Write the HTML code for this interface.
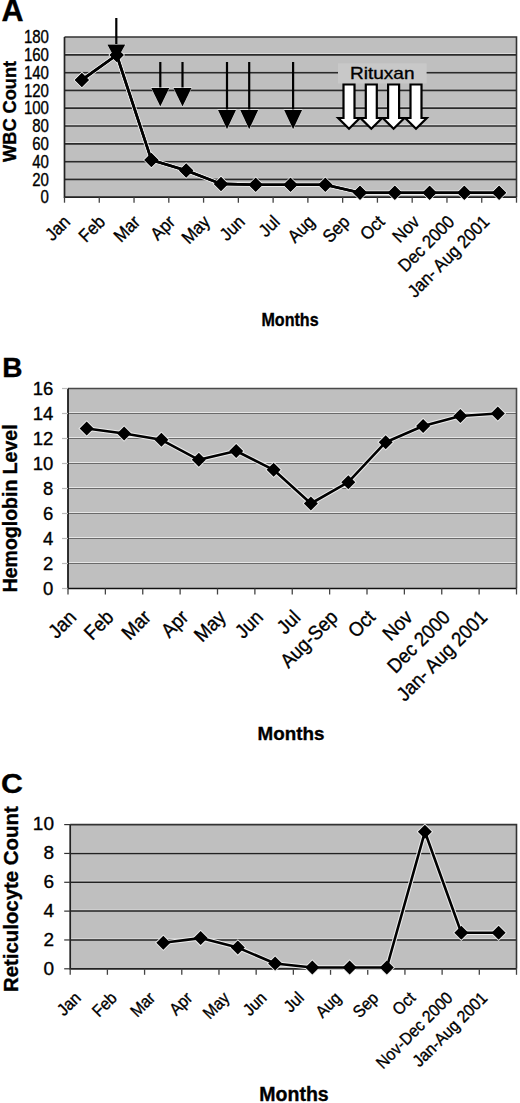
<!DOCTYPE html><html><head><meta charset="utf-8"><style>html,body{margin:0;padding:0;background:#fff;width:520px;height:1103px;overflow:hidden}svg{display:block}text{font-family:"Liberation Sans",sans-serif;fill:#000;stroke:#000;stroke-width:0.35px}</style></head><body>
<svg width="520" height="1103" viewBox="0 0 520 1103">
<text x="1.5" y="21.2" font-size="30.5" font-weight="bold">A</text>
<rect x="64.5" y="37" width="452.0" height="160.2" fill="#bfbfbf"/>
<line x1="64.5" y1="53.80" x2="516.5" y2="53.80" stroke="#e6e6e6" stroke-width="1"/>
<line x1="64.5" y1="54.80" x2="516.5" y2="54.80" stroke="#2a2a2a" stroke-width="1.7"/>
<line x1="64.5" y1="71.60" x2="516.5" y2="71.60" stroke="#e6e6e6" stroke-width="1"/>
<line x1="64.5" y1="72.60" x2="516.5" y2="72.60" stroke="#2a2a2a" stroke-width="1.7"/>
<line x1="64.5" y1="89.40" x2="516.5" y2="89.40" stroke="#e6e6e6" stroke-width="1"/>
<line x1="64.5" y1="90.40" x2="516.5" y2="90.40" stroke="#2a2a2a" stroke-width="1.7"/>
<line x1="64.5" y1="107.20" x2="516.5" y2="107.20" stroke="#e6e6e6" stroke-width="1"/>
<line x1="64.5" y1="108.20" x2="516.5" y2="108.20" stroke="#2a2a2a" stroke-width="1.7"/>
<line x1="64.5" y1="125.00" x2="516.5" y2="125.00" stroke="#e6e6e6" stroke-width="1"/>
<line x1="64.5" y1="126.00" x2="516.5" y2="126.00" stroke="#2a2a2a" stroke-width="1.7"/>
<line x1="64.5" y1="142.80" x2="516.5" y2="142.80" stroke="#e6e6e6" stroke-width="1"/>
<line x1="64.5" y1="143.80" x2="516.5" y2="143.80" stroke="#2a2a2a" stroke-width="1.7"/>
<line x1="64.5" y1="160.60" x2="516.5" y2="160.60" stroke="#e6e6e6" stroke-width="1"/>
<line x1="64.5" y1="161.60" x2="516.5" y2="161.60" stroke="#2a2a2a" stroke-width="1.7"/>
<line x1="64.5" y1="178.40" x2="516.5" y2="178.40" stroke="#e6e6e6" stroke-width="1"/>
<line x1="64.5" y1="179.40" x2="516.5" y2="179.40" stroke="#2a2a2a" stroke-width="1.7"/>
<path d="M64.5 37H516.5V197.2" fill="none" stroke="#333" stroke-width="1.6"/>
<path d="M64.5 37V197.2H516.5" fill="none" stroke="#222" stroke-width="1.7"/>
<line x1="64.50" y1="197.2" x2="64.50" y2="202.7" stroke="#444" stroke-width="1.3"/>
<line x1="99.27" y1="197.2" x2="99.27" y2="202.7" stroke="#444" stroke-width="1.3"/>
<line x1="134.04" y1="197.2" x2="134.04" y2="202.7" stroke="#444" stroke-width="1.3"/>
<line x1="168.81" y1="197.2" x2="168.81" y2="202.7" stroke="#444" stroke-width="1.3"/>
<line x1="203.58" y1="197.2" x2="203.58" y2="202.7" stroke="#444" stroke-width="1.3"/>
<line x1="238.35" y1="197.2" x2="238.35" y2="202.7" stroke="#444" stroke-width="1.3"/>
<line x1="273.12" y1="197.2" x2="273.12" y2="202.7" stroke="#444" stroke-width="1.3"/>
<line x1="307.88" y1="197.2" x2="307.88" y2="202.7" stroke="#444" stroke-width="1.3"/>
<line x1="342.65" y1="197.2" x2="342.65" y2="202.7" stroke="#444" stroke-width="1.3"/>
<line x1="377.42" y1="197.2" x2="377.42" y2="202.7" stroke="#444" stroke-width="1.3"/>
<line x1="412.19" y1="197.2" x2="412.19" y2="202.7" stroke="#444" stroke-width="1.3"/>
<line x1="446.96" y1="197.2" x2="446.96" y2="202.7" stroke="#444" stroke-width="1.3"/>
<line x1="481.73" y1="197.2" x2="481.73" y2="202.7" stroke="#444" stroke-width="1.3"/>
<line x1="516.50" y1="197.2" x2="516.50" y2="202.7" stroke="#444" stroke-width="1.3"/>
<text x="49" y="197.20" dy="0.36em" text-anchor="end" font-size="17.5" transform="translate(49 0) scale(0.86 1) translate(-49 0)">0</text>
<text x="49" y="179.40" dy="0.36em" text-anchor="end" font-size="17.5" transform="translate(49 0) scale(0.86 1) translate(-49 0)">20</text>
<text x="49" y="161.60" dy="0.36em" text-anchor="end" font-size="17.5" transform="translate(49 0) scale(0.86 1) translate(-49 0)">40</text>
<text x="49" y="143.80" dy="0.36em" text-anchor="end" font-size="17.5" transform="translate(49 0) scale(0.86 1) translate(-49 0)">60</text>
<text x="49" y="126.00" dy="0.36em" text-anchor="end" font-size="17.5" transform="translate(49 0) scale(0.86 1) translate(-49 0)">80</text>
<text x="49" y="108.20" dy="0.36em" text-anchor="end" font-size="17.5" transform="translate(49 0) scale(0.86 1) translate(-49 0)">100</text>
<text x="49" y="90.40" dy="0.36em" text-anchor="end" font-size="17.5" transform="translate(49 0) scale(0.86 1) translate(-49 0)">120</text>
<text x="49" y="72.60" dy="0.36em" text-anchor="end" font-size="17.5" transform="translate(49 0) scale(0.86 1) translate(-49 0)">140</text>
<text x="49" y="54.80" dy="0.36em" text-anchor="end" font-size="17.5" transform="translate(49 0) scale(0.86 1) translate(-49 0)">160</text>
<text x="49" y="37.00" dy="0.36em" text-anchor="end" font-size="17.5" transform="translate(49 0) scale(0.86 1) translate(-49 0)">180</text>
<text x="0" y="0" text-anchor="end" font-size="18" transform="translate(71.30 223) rotate(-45) scale(0.92 1)">Jan</text>
<text x="0" y="0" text-anchor="end" font-size="18" transform="translate(106.23 223) rotate(-45) scale(0.92 1)">Feb</text>
<text x="0" y="0" text-anchor="end" font-size="18" transform="translate(141.16 223) rotate(-45) scale(0.92 1)">Mar</text>
<text x="0" y="0" text-anchor="end" font-size="18" transform="translate(176.09 223) rotate(-45) scale(0.92 1)">Apr</text>
<text x="0" y="0" text-anchor="end" font-size="18" transform="translate(211.02 223) rotate(-45) scale(0.92 1)">May</text>
<text x="0" y="0" text-anchor="end" font-size="18" transform="translate(245.95 223) rotate(-45) scale(0.92 1)">Jun</text>
<text x="0" y="0" text-anchor="end" font-size="18" transform="translate(280.88 223) rotate(-45) scale(0.92 1)">Jul</text>
<text x="0" y="0" text-anchor="end" font-size="18" transform="translate(315.81 223) rotate(-45) scale(0.92 1)">Aug</text>
<text x="0" y="0" text-anchor="end" font-size="18" transform="translate(350.74 223) rotate(-45) scale(0.92 1)">Sep</text>
<text x="0" y="0" text-anchor="end" font-size="18" transform="translate(385.67 223) rotate(-45) scale(0.92 1)">Oct</text>
<text x="0" y="0" text-anchor="end" font-size="18" transform="translate(420.60 223) rotate(-45) scale(0.92 1)">Nov</text>
<text x="0" y="0" text-anchor="end" font-size="18" transform="translate(455.53 223) rotate(-45) scale(0.92 1)">Dec 2000</text>
<text x="0" y="0" text-anchor="end" font-size="18" transform="translate(490.46 223) rotate(-45) scale(0.92 1)">Jan- Aug 2001</text>
<path d="M81.9 79.9 L116.7 55.0 L151.4 159.9 L186.2 170.5 L221.0 183.9 L255.7 184.8 L290.5 184.8 L325.3 184.8 L360.0 192.8 L394.8 192.8 L429.6 192.8 L464.3 192.8 L499.1 192.8" fill="none" stroke="#ececec" stroke-width="4.6" stroke-linejoin="round"/>
<path d="M81.9 71.6L90.2 79.9L81.9 88.2L73.6 79.9Z" fill="#ececec"/>
<path d="M116.7 46.7L125.0 55.0L116.7 63.3L108.4 55.0Z" fill="#ececec"/>
<path d="M151.4 151.6L159.7 159.9L151.4 168.2L143.1 159.9Z" fill="#ececec"/>
<path d="M186.2 162.2L194.5 170.5L186.2 178.8L177.9 170.5Z" fill="#ececec"/>
<path d="M221.0 175.6L229.3 183.9L221.0 192.2L212.7 183.9Z" fill="#ececec"/>
<path d="M255.7 176.5L264.0 184.8L255.7 193.1L247.4 184.8Z" fill="#ececec"/>
<path d="M290.5 176.5L298.8 184.8L290.5 193.1L282.2 184.8Z" fill="#ececec"/>
<path d="M325.3 176.5L333.6 184.8L325.3 193.1L317.0 184.8Z" fill="#ececec"/>
<path d="M360.0 184.5L368.3 192.8L360.0 201.1L351.7 192.8Z" fill="#ececec"/>
<path d="M394.8 184.5L403.1 192.8L394.8 201.1L386.5 192.8Z" fill="#ececec"/>
<path d="M429.6 184.5L437.9 192.8L429.6 201.1L421.3 192.8Z" fill="#ececec"/>
<path d="M464.3 184.5L472.6 192.8L464.3 201.1L456.0 192.8Z" fill="#ececec"/>
<path d="M499.1 184.5L507.4 192.8L499.1 201.1L490.8 192.8Z" fill="#ececec"/>
<path d="M81.9 79.9 L116.7 55.0 L151.4 159.9 L186.2 170.5 L221.0 183.9 L255.7 184.8 L290.5 184.8 L325.3 184.8 L360.0 192.8 L394.8 192.8 L429.6 192.8 L464.3 192.8 L499.1 192.8" fill="none" stroke="#000" stroke-width="2.6" stroke-linejoin="round"/>
<path d="M81.9 72.9L88.9 79.9L81.9 86.9L74.9 79.9Z" fill="#000"/>
<path d="M116.7 48.0L123.7 55.0L116.7 62.0L109.7 55.0Z" fill="#000"/>
<path d="M151.4 152.9L158.4 159.9L151.4 166.9L144.4 159.9Z" fill="#000"/>
<path d="M186.2 163.5L193.2 170.5L186.2 177.5L179.2 170.5Z" fill="#000"/>
<path d="M221.0 176.9L228.0 183.9L221.0 190.9L214.0 183.9Z" fill="#000"/>
<path d="M255.7 177.8L262.7 184.8L255.7 191.8L248.7 184.8Z" fill="#000"/>
<path d="M290.5 177.8L297.5 184.8L290.5 191.8L283.5 184.8Z" fill="#000"/>
<path d="M325.3 177.8L332.3 184.8L325.3 191.8L318.3 184.8Z" fill="#000"/>
<path d="M360.0 185.8L367.0 192.8L360.0 199.8L353.0 192.8Z" fill="#000"/>
<path d="M394.8 185.8L401.8 192.8L394.8 199.8L387.8 192.8Z" fill="#000"/>
<path d="M429.6 185.8L436.6 192.8L429.6 199.8L422.6 192.8Z" fill="#000"/>
<path d="M464.3 185.8L471.3 192.8L464.3 199.8L457.3 192.8Z" fill="#000"/>
<path d="M499.1 185.8L506.1 192.8L499.1 199.8L492.1 192.8Z" fill="#000"/>
<line x1="116.3" y1="18" x2="116.3" y2="45.5" stroke="#000" stroke-width="2.2"/>
<path d="M106.8 44.0L125.8 44.0L116.3 61.8Z" fill="#fff"/>
<path d="M107.3 44.5L125.3 44.5L116.3 61Z" fill="#000"/>
<line x1="160.3" y1="62" x2="160.3" y2="89" stroke="#000" stroke-width="2.2"/>
<path d="M150.8 87.5L169.8 87.5L160.3 107.3Z" fill="#fff"/>
<path d="M151.3 88L169.3 88L160.3 106.5Z" fill="#000"/>
<line x1="182.5" y1="62" x2="182.5" y2="89" stroke="#000" stroke-width="2.2"/>
<path d="M173.0 87.5L192.0 87.5L182.5 107.3Z" fill="#fff"/>
<path d="M173.5 88L191.5 88L182.5 106.5Z" fill="#000"/>
<line x1="227" y1="62" x2="227" y2="111" stroke="#000" stroke-width="2.2"/>
<path d="M217.5 109.5L236.5 109.5L227 130.10000000000002Z" fill="#fff"/>
<path d="M218 110L236 110L227 129.3Z" fill="#000"/>
<line x1="249.2" y1="62" x2="249.2" y2="111" stroke="#000" stroke-width="2.2"/>
<path d="M239.7 109.5L258.7 109.5L249.2 130.10000000000002Z" fill="#fff"/>
<path d="M240.2 110L258.2 110L249.2 129.3Z" fill="#000"/>
<line x1="293.1" y1="62" x2="293.1" y2="111" stroke="#000" stroke-width="2.2"/>
<path d="M283.6 109.5L302.6 109.5L293.1 130.10000000000002Z" fill="#fff"/>
<path d="M284.1 110L302.1 110L293.1 129.3Z" fill="#000"/>
<path d="M81.9 79.9 L116.7 55.0 L151.4 159.9 L186.2 170.5 L221.0 183.9 L255.7 184.8 L290.5 184.8 L325.3 184.8 L360.0 192.8 L394.8 192.8 L429.6 192.8 L464.3 192.8 L499.1 192.8" fill="none" stroke="#000" stroke-width="2.6" stroke-linejoin="round"/>
<path d="M81.9 72.9L88.9 79.9L81.9 86.9L74.9 79.9Z" fill="#000"/>
<path d="M116.7 48.0L123.7 55.0L116.7 62.0L109.7 55.0Z" fill="#000"/>
<path d="M151.4 152.9L158.4 159.9L151.4 166.9L144.4 159.9Z" fill="#000"/>
<path d="M186.2 163.5L193.2 170.5L186.2 177.5L179.2 170.5Z" fill="#000"/>
<path d="M221.0 176.9L228.0 183.9L221.0 190.9L214.0 183.9Z" fill="#000"/>
<path d="M255.7 177.8L262.7 184.8L255.7 191.8L248.7 184.8Z" fill="#000"/>
<path d="M290.5 177.8L297.5 184.8L290.5 191.8L283.5 184.8Z" fill="#000"/>
<path d="M325.3 177.8L332.3 184.8L325.3 191.8L318.3 184.8Z" fill="#000"/>
<path d="M360.0 185.8L367.0 192.8L360.0 199.8L353.0 192.8Z" fill="#000"/>
<path d="M394.8 185.8L401.8 192.8L394.8 199.8L387.8 192.8Z" fill="#000"/>
<path d="M429.6 185.8L436.6 192.8L429.6 199.8L422.6 192.8Z" fill="#000"/>
<path d="M464.3 185.8L471.3 192.8L464.3 199.8L457.3 192.8Z" fill="#000"/>
<path d="M499.1 185.8L506.1 192.8L499.1 199.8L492.1 192.8Z" fill="#000"/>
<rect x="338" y="63.4" width="88.6" height="20.1" fill="#c8c8c8"/>
<text x="350" y="79.3" font-size="17" transform="translate(350 0) scale(1.12 1) translate(-350 0)">Rituxan</text>
<path d="M343.5 84.5L354.5 84.5L354.5 118L359.8 118L349 128.8L338.2 118L343.5 118Z" fill="#fff" stroke="#000" stroke-width="2.2" stroke-linejoin="miter"/>
<path d="M365.8 84.5L376.8 84.5L376.8 118L382.1 118L371.3 128.8L360.5 118L365.8 118Z" fill="#fff" stroke="#000" stroke-width="2.2" stroke-linejoin="miter"/>
<path d="M388.1 84.5L399.1 84.5L399.1 118L404.40000000000003 118L393.6 128.8L382.8 118L388.1 118Z" fill="#fff" stroke="#000" stroke-width="2.2" stroke-linejoin="miter"/>
<path d="M410.5 84.5L421.5 84.5L421.5 118L426.8 118L416 128.8L405.2 118L410.5 118Z" fill="#fff" stroke="#000" stroke-width="2.2" stroke-linejoin="miter"/>
<text x="290" y="326.3" text-anchor="middle" font-size="17.5" font-weight="bold" transform="translate(290 0) scale(0.92 1) translate(-290 0)">Months</text>
<text x="0" y="0" text-anchor="middle" font-size="18.2" font-weight="bold" transform="translate(15.8 111.4) rotate(-90)">WBC Count</text>
<text x="2.2" y="377" font-size="28" font-weight="bold">B</text>
<rect x="68" y="388.5" width="448.5" height="200.0" fill="#bfbfbf"/>
<line x1="68" y1="412.50" x2="516.5" y2="412.50" stroke="#e6e6e6" stroke-width="1"/>
<line x1="68" y1="413.50" x2="516.5" y2="413.50" stroke="#6a6a6a" stroke-width="1.0"/>
<line x1="68" y1="437.50" x2="516.5" y2="437.50" stroke="#e6e6e6" stroke-width="1"/>
<line x1="68" y1="438.50" x2="516.5" y2="438.50" stroke="#6a6a6a" stroke-width="1.0"/>
<line x1="68" y1="462.50" x2="516.5" y2="462.50" stroke="#e6e6e6" stroke-width="1"/>
<line x1="68" y1="463.50" x2="516.5" y2="463.50" stroke="#6a6a6a" stroke-width="1.0"/>
<line x1="68" y1="487.50" x2="516.5" y2="487.50" stroke="#e6e6e6" stroke-width="1"/>
<line x1="68" y1="488.50" x2="516.5" y2="488.50" stroke="#6a6a6a" stroke-width="1.0"/>
<line x1="68" y1="512.50" x2="516.5" y2="512.50" stroke="#e6e6e6" stroke-width="1"/>
<line x1="68" y1="513.50" x2="516.5" y2="513.50" stroke="#6a6a6a" stroke-width="1.0"/>
<line x1="68" y1="537.50" x2="516.5" y2="537.50" stroke="#e6e6e6" stroke-width="1"/>
<line x1="68" y1="538.50" x2="516.5" y2="538.50" stroke="#6a6a6a" stroke-width="1.0"/>
<line x1="68" y1="562.50" x2="516.5" y2="562.50" stroke="#e6e6e6" stroke-width="1"/>
<line x1="68" y1="563.50" x2="516.5" y2="563.50" stroke="#6a6a6a" stroke-width="1.0"/>
<path d="M68 388.5H516.5V588.5" fill="none" stroke="#4a4a4a" stroke-width="1.6"/>
<path d="M68 388.5V588.5H516.5" fill="none" stroke="#111" stroke-width="1.7"/>
<line x1="62" y1="388.50" x2="68" y2="388.50" stroke="#bbb" stroke-width="1.2"/>
<line x1="62" y1="413.50" x2="68" y2="413.50" stroke="#bbb" stroke-width="1.2"/>
<line x1="62" y1="438.50" x2="68" y2="438.50" stroke="#bbb" stroke-width="1.2"/>
<line x1="62" y1="463.50" x2="68" y2="463.50" stroke="#bbb" stroke-width="1.2"/>
<line x1="62" y1="488.50" x2="68" y2="488.50" stroke="#bbb" stroke-width="1.2"/>
<line x1="62" y1="513.50" x2="68" y2="513.50" stroke="#bbb" stroke-width="1.2"/>
<line x1="62" y1="538.50" x2="68" y2="538.50" stroke="#bbb" stroke-width="1.2"/>
<line x1="62" y1="563.50" x2="68" y2="563.50" stroke="#bbb" stroke-width="1.2"/>
<line x1="62" y1="588.50" x2="68" y2="588.50" stroke="#bbb" stroke-width="1.2"/>
<line x1="68.00" y1="588.5" x2="68.00" y2="594.5" stroke="#444" stroke-width="1.3"/>
<line x1="105.38" y1="588.5" x2="105.38" y2="594.5" stroke="#444" stroke-width="1.3"/>
<line x1="142.75" y1="588.5" x2="142.75" y2="594.5" stroke="#444" stroke-width="1.3"/>
<line x1="180.12" y1="588.5" x2="180.12" y2="594.5" stroke="#444" stroke-width="1.3"/>
<line x1="217.50" y1="588.5" x2="217.50" y2="594.5" stroke="#444" stroke-width="1.3"/>
<line x1="254.88" y1="588.5" x2="254.88" y2="594.5" stroke="#444" stroke-width="1.3"/>
<line x1="292.25" y1="588.5" x2="292.25" y2="594.5" stroke="#444" stroke-width="1.3"/>
<line x1="329.62" y1="588.5" x2="329.62" y2="594.5" stroke="#444" stroke-width="1.3"/>
<line x1="367.00" y1="588.5" x2="367.00" y2="594.5" stroke="#444" stroke-width="1.3"/>
<line x1="404.38" y1="588.5" x2="404.38" y2="594.5" stroke="#444" stroke-width="1.3"/>
<line x1="441.75" y1="588.5" x2="441.75" y2="594.5" stroke="#444" stroke-width="1.3"/>
<line x1="479.12" y1="588.5" x2="479.12" y2="594.5" stroke="#444" stroke-width="1.3"/>
<line x1="516.50" y1="588.5" x2="516.50" y2="594.5" stroke="#444" stroke-width="1.3"/>
<text x="53.3" y="588.00" dy="0.36em" text-anchor="end" font-size="18.5" transform="translate(53.3 0) scale(1.0 1) translate(-53.3 0)">0</text>
<text x="53.3" y="563.00" dy="0.36em" text-anchor="end" font-size="18.5" transform="translate(53.3 0) scale(1.0 1) translate(-53.3 0)">2</text>
<text x="53.3" y="538.00" dy="0.36em" text-anchor="end" font-size="18.5" transform="translate(53.3 0) scale(1.0 1) translate(-53.3 0)">4</text>
<text x="53.3" y="513.00" dy="0.36em" text-anchor="end" font-size="18.5" transform="translate(53.3 0) scale(1.0 1) translate(-53.3 0)">6</text>
<text x="53.3" y="488.00" dy="0.36em" text-anchor="end" font-size="18.5" transform="translate(53.3 0) scale(1.0 1) translate(-53.3 0)">8</text>
<text x="53.3" y="463.00" dy="0.36em" text-anchor="end" font-size="18.5" transform="translate(53.3 0) scale(1.0 1) translate(-53.3 0)">10</text>
<text x="53.3" y="438.00" dy="0.36em" text-anchor="end" font-size="18.5" transform="translate(53.3 0) scale(1.0 1) translate(-53.3 0)">12</text>
<text x="53.3" y="413.00" dy="0.36em" text-anchor="end" font-size="18.5" transform="translate(53.3 0) scale(1.0 1) translate(-53.3 0)">14</text>
<text x="53.3" y="388.00" dy="0.36em" text-anchor="end" font-size="18.5" transform="translate(53.3 0) scale(1.0 1) translate(-53.3 0)">16</text>
<text x="0" y="0" text-anchor="end" font-size="20" transform="translate(77.40 618.5) rotate(-45) scale(0.92 1)">Jan</text>
<text x="0" y="0" text-anchor="end" font-size="20" transform="translate(114.77 618.5) rotate(-45) scale(0.92 1)">Feb</text>
<text x="0" y="0" text-anchor="end" font-size="20" transform="translate(152.15 618.5) rotate(-45) scale(0.92 1)">Mar</text>
<text x="0" y="0" text-anchor="end" font-size="20" transform="translate(189.52 618.5) rotate(-45) scale(0.92 1)">Apr</text>
<text x="0" y="0" text-anchor="end" font-size="20" transform="translate(226.90 618.5) rotate(-45) scale(0.92 1)">May</text>
<text x="0" y="0" text-anchor="end" font-size="20" transform="translate(264.27 618.5) rotate(-45) scale(0.92 1)">Jun</text>
<text x="0" y="0" text-anchor="end" font-size="20" transform="translate(301.65 618.5) rotate(-45) scale(0.92 1)">Jul</text>
<text x="0" y="0" text-anchor="end" font-size="20" transform="translate(339.02 618.5) rotate(-45) scale(0.92 1)">Aug-Sep</text>
<text x="0" y="0" text-anchor="end" font-size="20" transform="translate(376.40 618.5) rotate(-45) scale(0.92 1)">Oct</text>
<text x="0" y="0" text-anchor="end" font-size="20" transform="translate(413.77 618.5) rotate(-45) scale(0.92 1)">Nov</text>
<text x="0" y="0" text-anchor="end" font-size="20" transform="translate(451.15 618.5) rotate(-45) scale(0.92 1)">Dec 2000</text>
<text x="0" y="0" text-anchor="end" font-size="20" transform="translate(488.52 618.5) rotate(-45) scale(0.92 1)">Jan- Aug 2001</text>
<path d="M86.7 428.5 L124.1 433.5 L161.4 439.8 L198.8 459.8 L236.2 451.0 L273.6 469.8 L310.9 503.5 L348.3 482.2 L385.7 442.2 L423.1 426.0 L460.4 416.0 L497.8 413.5" fill="none" stroke="#ececec" stroke-width="4.6" stroke-linejoin="round"/>
<path d="M86.7 420.2L95.0 428.5L86.7 436.8L78.4 428.5Z" fill="#ececec"/>
<path d="M124.1 425.2L132.4 433.5L124.1 441.8L115.8 433.5Z" fill="#ececec"/>
<path d="M161.4 431.4L169.7 439.8L161.4 448.1L153.1 439.8Z" fill="#ececec"/>
<path d="M198.8 451.4L207.1 459.8L198.8 468.1L190.5 459.8Z" fill="#ececec"/>
<path d="M236.2 442.7L244.5 451.0L236.2 459.3L227.9 451.0Z" fill="#ececec"/>
<path d="M273.6 461.4L281.9 469.8L273.6 478.1L265.3 469.8Z" fill="#ececec"/>
<path d="M310.9 495.2L319.2 503.5L310.9 511.8L302.6 503.5Z" fill="#ececec"/>
<path d="M348.3 473.9L356.6 482.2L348.3 490.6L340.0 482.2Z" fill="#ececec"/>
<path d="M385.7 433.9L394.0 442.2L385.7 450.6L377.4 442.2Z" fill="#ececec"/>
<path d="M423.1 417.7L431.4 426.0L423.1 434.3L414.8 426.0Z" fill="#ececec"/>
<path d="M460.4 407.7L468.7 416.0L460.4 424.3L452.1 416.0Z" fill="#ececec"/>
<path d="M497.8 405.2L506.1 413.5L497.8 421.8L489.5 413.5Z" fill="#ececec"/>
<path d="M86.7 428.5 L124.1 433.5 L161.4 439.8 L198.8 459.8 L236.2 451.0 L273.6 469.8 L310.9 503.5 L348.3 482.2 L385.7 442.2 L423.1 426.0 L460.4 416.0 L497.8 413.5" fill="none" stroke="#000" stroke-width="2.6" stroke-linejoin="round"/>
<path d="M86.7 421.5L93.7 428.5L86.7 435.5L79.7 428.5Z" fill="#000"/>
<path d="M124.1 426.5L131.1 433.5L124.1 440.5L117.1 433.5Z" fill="#000"/>
<path d="M161.4 432.8L168.4 439.8L161.4 446.8L154.4 439.8Z" fill="#000"/>
<path d="M198.8 452.8L205.8 459.8L198.8 466.8L191.8 459.8Z" fill="#000"/>
<path d="M236.2 444.0L243.2 451.0L236.2 458.0L229.2 451.0Z" fill="#000"/>
<path d="M273.6 462.8L280.6 469.8L273.6 476.8L266.6 469.8Z" fill="#000"/>
<path d="M310.9 496.5L317.9 503.5L310.9 510.5L303.9 503.5Z" fill="#000"/>
<path d="M348.3 475.2L355.3 482.2L348.3 489.2L341.3 482.2Z" fill="#000"/>
<path d="M385.7 435.2L392.7 442.2L385.7 449.2L378.7 442.2Z" fill="#000"/>
<path d="M423.1 419.0L430.1 426.0L423.1 433.0L416.1 426.0Z" fill="#000"/>
<path d="M460.4 409.0L467.4 416.0L460.4 423.0L453.4 416.0Z" fill="#000"/>
<path d="M497.8 406.5L504.8 413.5L497.8 420.5L490.8 413.5Z" fill="#000"/>
<text x="291" y="740" text-anchor="middle" font-size="18.8" font-weight="bold">Months</text>
<text x="0" y="0" text-anchor="middle" font-size="19.5" font-weight="bold" transform="translate(17.2 508.4) rotate(-90)">Hemoglobin Level</text>
<text x="1" y="793" font-size="28" font-weight="bold" transform="translate(1 0) scale(1.08 1) translate(-1 0)">C</text>
<rect x="70.2" y="824.6" width="446.3" height="144.19999999999993" fill="#bfbfbf"/>
<line x1="70.2" y1="852.44" x2="516.5" y2="852.44" stroke="#e6e6e6" stroke-width="1"/>
<line x1="70.2" y1="853.44" x2="516.5" y2="853.44" stroke="#222" stroke-width="1.5"/>
<line x1="70.2" y1="881.28" x2="516.5" y2="881.28" stroke="#e6e6e6" stroke-width="1"/>
<line x1="70.2" y1="882.28" x2="516.5" y2="882.28" stroke="#222" stroke-width="1.5"/>
<line x1="70.2" y1="910.12" x2="516.5" y2="910.12" stroke="#e6e6e6" stroke-width="1"/>
<line x1="70.2" y1="911.12" x2="516.5" y2="911.12" stroke="#222" stroke-width="1.5"/>
<line x1="70.2" y1="938.96" x2="516.5" y2="938.96" stroke="#e6e6e6" stroke-width="1"/>
<line x1="70.2" y1="939.96" x2="516.5" y2="939.96" stroke="#222" stroke-width="1.5"/>
<path d="M70.2 824.6H516.5V968.8" fill="none" stroke="#333" stroke-width="1.6"/>
<path d="M70.2 824.6V968.8H516.5" fill="none" stroke="#222" stroke-width="1.7"/>
<line x1="64.2" y1="824.60" x2="70.2" y2="824.60" stroke="#333" stroke-width="1.2"/>
<line x1="64.2" y1="853.44" x2="70.2" y2="853.44" stroke="#333" stroke-width="1.2"/>
<line x1="64.2" y1="882.28" x2="70.2" y2="882.28" stroke="#333" stroke-width="1.2"/>
<line x1="64.2" y1="911.12" x2="70.2" y2="911.12" stroke="#333" stroke-width="1.2"/>
<line x1="64.2" y1="939.96" x2="70.2" y2="939.96" stroke="#333" stroke-width="1.2"/>
<line x1="64.2" y1="968.80" x2="70.2" y2="968.80" stroke="#333" stroke-width="1.2"/>
<line x1="70.20" y1="968.8" x2="70.20" y2="974.8" stroke="#444" stroke-width="1.3"/>
<line x1="107.39" y1="968.8" x2="107.39" y2="974.8" stroke="#444" stroke-width="1.3"/>
<line x1="144.58" y1="968.8" x2="144.58" y2="974.8" stroke="#444" stroke-width="1.3"/>
<line x1="181.78" y1="968.8" x2="181.78" y2="974.8" stroke="#444" stroke-width="1.3"/>
<line x1="218.97" y1="968.8" x2="218.97" y2="974.8" stroke="#444" stroke-width="1.3"/>
<line x1="256.16" y1="968.8" x2="256.16" y2="974.8" stroke="#444" stroke-width="1.3"/>
<line x1="293.35" y1="968.8" x2="293.35" y2="974.8" stroke="#444" stroke-width="1.3"/>
<line x1="330.54" y1="968.8" x2="330.54" y2="974.8" stroke="#444" stroke-width="1.3"/>
<line x1="367.73" y1="968.8" x2="367.73" y2="974.8" stroke="#444" stroke-width="1.3"/>
<line x1="404.93" y1="968.8" x2="404.93" y2="974.8" stroke="#444" stroke-width="1.3"/>
<line x1="442.12" y1="968.8" x2="442.12" y2="974.8" stroke="#444" stroke-width="1.3"/>
<line x1="479.31" y1="968.8" x2="479.31" y2="974.8" stroke="#444" stroke-width="1.3"/>
<line x1="516.50" y1="968.8" x2="516.50" y2="974.8" stroke="#444" stroke-width="1.3"/>
<text x="54" y="967.80" dy="0.36em" text-anchor="end" font-size="19" transform="translate(54 0) scale(1.0 1) translate(-54 0)">0</text>
<text x="54" y="938.96" dy="0.36em" text-anchor="end" font-size="19" transform="translate(54 0) scale(1.0 1) translate(-54 0)">2</text>
<text x="54" y="910.12" dy="0.36em" text-anchor="end" font-size="19" transform="translate(54 0) scale(1.0 1) translate(-54 0)">4</text>
<text x="54" y="881.28" dy="0.36em" text-anchor="end" font-size="19" transform="translate(54 0) scale(1.0 1) translate(-54 0)">6</text>
<text x="54" y="852.44" dy="0.36em" text-anchor="end" font-size="19" transform="translate(54 0) scale(1.0 1) translate(-54 0)">8</text>
<text x="54" y="823.60" dy="0.36em" text-anchor="end" font-size="19" transform="translate(54 0) scale(1.0 1) translate(-54 0)">10</text>
<text x="0" y="0" text-anchor="end" font-size="17" transform="translate(81.80 999) rotate(-45) scale(0.92 1)">Jan</text>
<text x="0" y="0" text-anchor="end" font-size="17" transform="translate(117.99 999) rotate(-45) scale(0.92 1)">Feb</text>
<text x="0" y="0" text-anchor="end" font-size="17" transform="translate(156.18 999) rotate(-45) scale(0.92 1)">Mar</text>
<text x="0" y="0" text-anchor="end" font-size="17" transform="translate(193.37 999) rotate(-45) scale(0.92 1)">Apr</text>
<text x="0" y="0" text-anchor="end" font-size="17" transform="translate(230.56 999) rotate(-45) scale(0.92 1)">May</text>
<text x="0" y="0" text-anchor="end" font-size="17" transform="translate(267.75 999) rotate(-45) scale(0.92 1)">Jun</text>
<text x="0" y="0" text-anchor="end" font-size="17" transform="translate(304.95 999) rotate(-45) scale(0.92 1)">Jul</text>
<text x="0" y="0" text-anchor="end" font-size="17" transform="translate(342.14 999) rotate(-45) scale(0.92 1)">Aug</text>
<text x="0" y="0" text-anchor="end" font-size="17" transform="translate(379.33 999) rotate(-45) scale(0.92 1)">Sep</text>
<text x="0" y="0" text-anchor="end" font-size="17" transform="translate(416.52 999) rotate(-45) scale(0.92 1)">Oct</text>
<text x="0" y="0" text-anchor="end" font-size="17" transform="translate(453.71 999) rotate(-45) scale(0.92 1)">Nov-Dec 2000</text>
<text x="0" y="0" text-anchor="end" font-size="17" transform="translate(488.40 999) rotate(-45) scale(0.92 1)">Jan-Aug 2001</text>
<path d="M163.3 942.8 L200.6 938.1 L237.8 947.6 L275.1 963.5 L312.3 967.5 L349.6 967.5 L386.8 967.5 L424.9 831.8 L461.3 932.8 L498.6 932.8" fill="none" stroke="#ececec" stroke-width="4.6" stroke-linejoin="round"/>
<path d="M163.3 934.5L171.6 942.8L163.3 951.1L155.0 942.8Z" fill="#ececec"/>
<path d="M200.6 929.8L208.9 938.1L200.6 946.4L192.2 938.1Z" fill="#ececec"/>
<path d="M237.8 939.3L246.1 947.6L237.8 955.9L229.5 947.6Z" fill="#ececec"/>
<path d="M275.1 955.2L283.4 963.5L275.1 971.8L266.8 963.5Z" fill="#ececec"/>
<path d="M312.3 959.2L320.6 967.5L312.3 975.8L304.0 967.5Z" fill="#ececec"/>
<path d="M349.6 959.2L357.9 967.5L349.6 975.8L341.2 967.5Z" fill="#ececec"/>
<path d="M386.8 959.2L395.1 967.5L386.8 975.8L378.5 967.5Z" fill="#ececec"/>
<path d="M424.9 823.5L433.2 831.8L424.9 840.1L416.6 831.8Z" fill="#ececec"/>
<path d="M461.3 924.5L469.6 932.8L461.3 941.0L453.0 932.8Z" fill="#ececec"/>
<path d="M498.6 924.5L506.9 932.8L498.6 941.0L490.2 932.8Z" fill="#ececec"/>
<path d="M163.3 942.8 L200.6 938.1 L237.8 947.6 L275.1 963.5 L312.3 967.5 L349.6 967.5 L386.8 967.5 L424.9 831.8 L461.3 932.8 L498.6 932.8" fill="none" stroke="#000" stroke-width="2.6" stroke-linejoin="round"/>
<path d="M163.3 935.8L170.3 942.8L163.3 949.8L156.3 942.8Z" fill="#000"/>
<path d="M200.6 931.1L207.6 938.1L200.6 945.1L193.6 938.1Z" fill="#000"/>
<path d="M237.8 940.6L244.8 947.6L237.8 954.6L230.8 947.6Z" fill="#000"/>
<path d="M275.1 956.5L282.1 963.5L275.1 970.5L268.1 963.5Z" fill="#000"/>
<path d="M312.3 960.5L319.3 967.5L312.3 974.5L305.3 967.5Z" fill="#000"/>
<path d="M349.6 960.5L356.6 967.5L349.6 974.5L342.6 967.5Z" fill="#000"/>
<path d="M386.8 960.5L393.8 967.5L386.8 974.5L379.8 967.5Z" fill="#000"/>
<path d="M424.9 824.8L431.9 831.8L424.9 838.8L417.9 831.8Z" fill="#000"/>
<path d="M461.3 925.8L468.3 932.8L461.3 939.8L454.3 932.8Z" fill="#000"/>
<path d="M498.6 925.8L505.6 932.8L498.6 939.8L491.6 932.8Z" fill="#000"/>
<text x="294" y="1101.2" text-anchor="middle" font-size="19.5" font-weight="bold">Months</text>
<text x="0" y="0" text-anchor="middle" font-size="20.4" font-weight="bold" transform="translate(17.5 899.2) rotate(-90)">Reticulocyte Count</text>
</svg></body></html>
